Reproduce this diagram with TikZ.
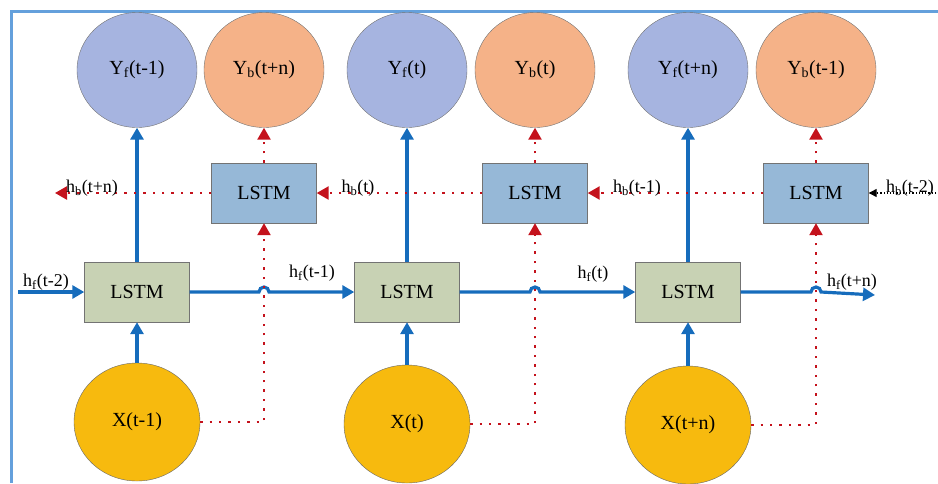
\documentclass[tikz,border=0pt]{standalone}
\usepackage{fontspec}
\setmainfont{Liberation Serif}
\definecolor{fwdblue}{RGB}{22,108,188}
\definecolor{bwdred}{RGB}{196,18,28}
\definecolor{frameblue}{RGB}{100,160,220}
\definecolor{yfcolor}{RGB}{166,180,224}
\definecolor{ybcolor}{RGB}{245,178,136}
\definecolor{incolor}{RGB}{247,186,14}
\definecolor{bboxcolor}{RGB}{150,184,215}
\definecolor{fboxcolor}{RGB}{200,210,180}
\usetikzlibrary{arrows.meta,shapes.geometric}

\begin{document}
\begin{tikzpicture}[x=1pt, y=-1pt,
    outcircle/.style={ellipse, draw=black!55, minimum width=120pt, minimum height=115pt, inner sep=0pt, font=\fontsize{20}{22}\selectfont},
    incircle/.style={ellipse, draw=black!60, fill=incolor, minimum width=126pt, minimum height=118pt, inner sep=0pt, font=\fontsize{20}{22}\selectfont},
    lstmbox/.style={rectangle, draw=black!55, minimum width=105pt, minimum height=60pt, font=\fontsize{20}{22}\selectfont},
    hlabel/.style={inner sep=0pt, font=\fontsize{18}{20}\selectfont},
    fwdline/.style={fwdblue, line width=3.2pt, -{Triangle[length=12pt,width=13pt]}},
    bwdline/.style={bwdred, line width=2.4pt, dash pattern=on 2.4pt off 7pt, -{Triangle[length=12pt,width=13pt]}}]
    \useasboundingbox (0,0) rectangle (938,483);
    \draw[frameblue, line width=3pt] (11,483) -- (11,11) -- (938,11);

    % output layer
    \node[outcircle, fill=yfcolor] (yf1) at (137,70) {Y\textsubscript{f}(t-1)};
    \node[outcircle, fill=ybcolor] (yb1) at (264,70) {Y\textsubscript{b}(t+n)};
    \node[outcircle, fill=yfcolor] (yf2) at (407,70) {Y\textsubscript{f}(t)};
    \node[outcircle, fill=ybcolor] (yb2) at (535,70) {Y\textsubscript{b}(t)};
    \node[outcircle, fill=yfcolor] (yf3) at (688,70) {Y\textsubscript{f}(t+n)};
    \node[outcircle, fill=ybcolor] (yb3) at (816,70) {Y\textsubscript{b}(t-1)};

    % backward LSTM layer
    \node[lstmbox, fill=bboxcolor] (b1) at (264,193) {LSTM};
    \node[lstmbox, fill=bboxcolor] (b2) at (535,193) {LSTM};
    \node[lstmbox, fill=bboxcolor] (b3) at (816,193) {LSTM};

    % forward LSTM layer
    \node[lstmbox, fill=fboxcolor] (f1) at (137,292) {LSTM};
    \node[lstmbox, fill=fboxcolor] (f2) at (407,292) {LSTM};
    \node[lstmbox, fill=fboxcolor] (f3) at (688,292) {LSTM};

    % inputs
    \node[incircle] (x1) at (137,422) {X(t-1)};
    \node[incircle] (x2) at (407,424) {X(t)};
    \node[incircle] (x3) at (688,425) {X(t+n)};

    % free ends and crossings
    \coordinate (fin) at (18,292);
    \coordinate (fout) at (875,295);
    \coordinate (bin) at (936,193);
    \coordinate (bout) at (55,193);
    \coordinate (j1) at (b1.south |- x1.east);
    \coordinate (j2) at (b2.south |- x2.east);
    \coordinate (j3) at (b3.south |- x3.east);
    \coordinate (k1) at (b1.south |- f1.east);
    \coordinate (k2) at (b2.south |- f2.east);
    \coordinate (k3) at (b3.south |- f3.east);

    % forward connections
    \draw[fwdline] (x1) -- (f1);
    \draw[fwdline] (x2) -- (f2);
    \draw[fwdline] (x3) -- (f3);
    \draw[fwdline] (f1) -- (yf1);
    \draw[fwdline] (f2) -- (yf2);
    \draw[fwdline] (f3) -- (yf3);
    \draw[fwdline] (fin) -- (f1.west);
    \draw[fwdline] (f1.east) -- ([xshift=-5pt]k1) arc[start angle=180, end angle=0, radius=5pt] -- (f2.west);
    \draw[fwdline] (f2.east) -- ([xshift=-5pt]k2) arc[start angle=180, end angle=0, radius=5pt] -- (f3.west);
    \draw[fwdline] (f3.east) -- ([xshift=-5pt]k3) arc[start angle=180, end angle=0, radius=5pt] -- (fout);

    % backward connections
    \draw[bwdline] (x1.east) -- (j1) -- (b1.south);
    \draw[bwdline] (x2.east) -- (j2) -- (b2.south);
    \draw[bwdline] (x3.east) -- (j3) -- (b3.south);
    \draw[bwdline] (b1) -- (yb1);
    \draw[bwdline] (b2) -- (yb2);
    \draw[bwdline] (b3) -- (yb3);
    \draw[bwdline] (b3.west) -- (b2.east);
    \draw[bwdline] (b2.west) -- (b1.east);
    \draw[bwdline] (b1.west) -- (bout);
    \draw[black, line width=1.2pt, dash pattern=on 1.2pt off 2pt, -{Triangle[length=8pt,width=8pt]}] (bin) -- (b3.east);

    % state labels
    \node[hlabel] (lhf1) at (46,282) {h\textsubscript{f}(t-2)};
    \node[hlabel] (lhf2) at (312,273) {h\textsubscript{f}(t-1)};
    \node[hlabel] (lhf3) at (593,274) {h\textsubscript{f}(t)};
    \node[hlabel] (lhf4) at (852,282) {h\textsubscript{f}(t+n)};
    \node[hlabel] (lhb1) at (92,188) {h\textsubscript{b}(t+n)};
    \node[hlabel] (lhb2) at (358,188) {h\textsubscript{b}(t)};
    \node[hlabel] (lhb3) at (637,188) {h\textsubscript{b}(t-1)};
    \node[hlabel] (lhb4) at (910,188) {h\textsubscript{b}(t-2)};
\end{tikzpicture}
\end{document}
